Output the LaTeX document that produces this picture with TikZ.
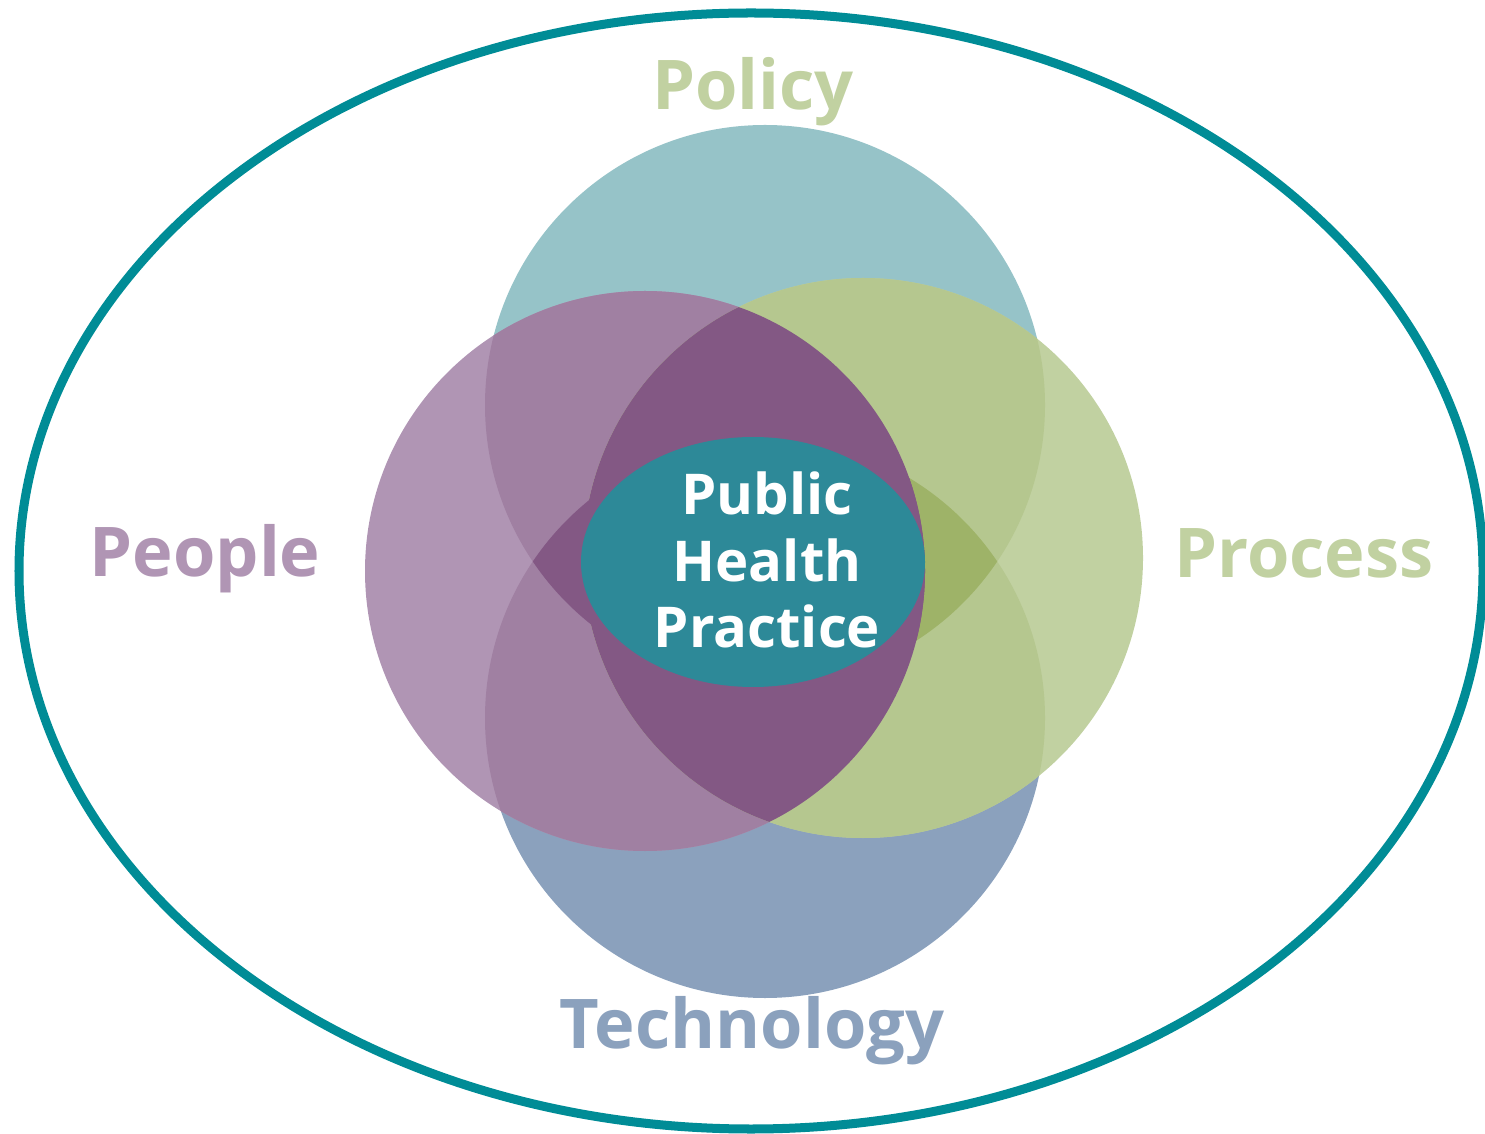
\documentclass[tikz,border=0pt]{standalone}
\usepackage{fontspec}
\setmainfont{Open Sans}
\usetikzlibrary{positioning}
\definecolor{ringteal}{RGB}{0,140,150}
\definecolor{coreteal}{RGB}{45,137,152}
\definecolor{policyblue}{RGB}{150,195,200}
\definecolor{techblue}{RGB}{139,161,189}
\definecolor{peoplepurple}{RGB}{176,149,180}
\definecolor{peoplemid}{RGB}{160,128,162}
\definecolor{peopledark}{RGB}{131,88,132}
\definecolor{processgreen}{RGB}{193,209,161}
\definecolor{processmid}{RGB}{181,199,143}
\definecolor{processdark}{RGB}{158,179,104}

\begin{document}
\begin{tikzpicture}[x=0.01cm, y=-0.01cm,
  label/.style={font=\fontsize{19.5pt}{21pt}\selectfont\bfseries, inner sep=0pt, anchor=base},
  core/.style={font=\fontsize{16pt}{19pt}\selectfont\bfseries, text=white, align=center}]
\useasboundingbox (0,0) rectangle (1485,1134);
\def\rad{280}
\coordinate (pol) at (765,405);
\coordinate (tec) at (765,718);
\coordinate (peo) at (645,571);
\coordinate (pro) at (863,558);

% outer ring
\draw[ringteal, line width=0.09cm] (751,571) ellipse [x radius=732, y radius=558];

% four circles
\fill[policyblue] (pol) circle [radius=\rad];
\fill[techblue] (tec) circle [radius=\rad];
\fill[peoplepurple] (peo) circle [radius=\rad];
\fill[processgreen] (pro) circle [radius=\rad];

% overlaps
\begin{scope}
  \clip (peo) circle [radius=\rad];
  \fill[peoplemid] (pol) circle [radius=\rad] (tec) circle [radius=\rad];
\end{scope}
\begin{scope}
  \clip (pro) circle [radius=\rad];
  \fill[processmid] (pol) circle [radius=\rad] (tec) circle [radius=\rad];
\end{scope}
\begin{scope}
  \clip (pol) circle [radius=\rad];
  \clip (tec) circle [radius=\rad];
  \fill[processdark] (pro) circle [radius=\rad];
  \fill[peopledark] (peo) circle [radius=\rad];
\end{scope}
\begin{scope}
  \clip (peo) circle [radius=\rad];
  \fill[peopledark] (pro) circle [radius=\rad];
\end{scope}

% centre
\fill[coreteal] (753,562) ellipse [x radius=172, y radius=125];
\node[core] (practice) at (767,560) {Public\\Health\\Practice};

% labels
\node[label, text=processgreen] (policy) at (753,110) {Policy};
\node[label, text=peoplepurple] (people) at (205,577) {People};
\node[label, text=processgreen] (process) at (1304,578) {Process};
\node[label, text=techblue] (technology) at (752,1048) {Technology};
\end{tikzpicture}
\end{document}
